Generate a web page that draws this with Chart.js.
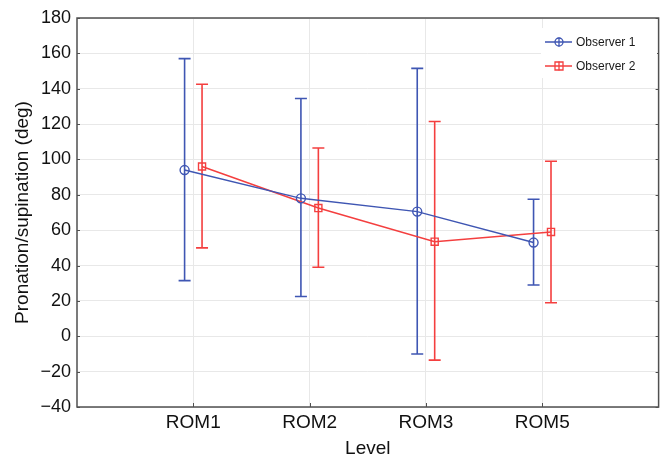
<!DOCTYPE html>
<html>
<head>
<meta charset="utf-8">
<script src="https://cdn.jsdelivr.net/npm/chart.js@4.4.1/dist/chart.umd.min.js"></script>
<style>
  html, body { margin: 0; padding: 0; background: #fff; }
  #wrap { width: 665px; height: 460px; }
</style>
</head>
<body>
<div id="wrap"><canvas id="chart" width="665" height="460"></canvas></div>
<script>
// data
const levels = ['ROM1', 'ROM2', 'ROM3', 'ROM5'];
const seriesNames = ['Observer 1', 'Observer 2'];
const obs1Mean = [94, 78, 70.5, 53];
const obs1Low = [31.5, 22.5, -10, 29];
const obs1High = [157, 134.5, 151.5, 77.5];
const obs2Mean = [96, 72.5, 53.5, 59];
const obs2Low = [50, 39, -13.5, 19];
const obs2High = [142.5, 106.5, 121.5, 99];
const yTicks = [-40, -20, 0, 20, 40, 60, 80, 100, 120, 140, 160, 180];

const BLUE = '#3f56b3';
const RED = '#f43f3f';
const FONT = '"Liberation Sans", Arial, sans-serif';

// small horizontal shift so the two observers don't overlap
const shift = [-0.075, 0.075];

const toPoints = (vals, k) => vals.map((v, i) => ({ x: i + 1 + shift[k], y: v }));

const errors = [
  { low: obs1Low, high: obs1High },
  { low: obs2Low, high: obs2High },
];

const errorBars = {
  id: 'errorBars',
  beforeDatasetsDraw(chart) {
    const ctx = chart.ctx;
    const y = chart.scales.y;
    chart.data.datasets.forEach((ds, k) => {
      const meta = chart.getDatasetMeta(k);
      ctx.save();
      ctx.strokeStyle = ds.borderColor;
      ctx.lineWidth = 1.6;
      meta.data.forEach((pt, i) => {
        const top = y.getPixelForValue(errors[k].high[i]);
        const bot = y.getPixelForValue(errors[k].low[i]);
        ctx.beginPath();
        ctx.moveTo(pt.x, top);
        ctx.lineTo(pt.x, bot);
        ctx.moveTo(pt.x - 6, top);
        ctx.lineTo(pt.x + 6, top);
        ctx.moveTo(pt.x - 6, bot);
        ctx.lineTo(pt.x + 6, bot);
        ctx.stroke();
      });
      ctx.restore();
    });
  },
};

const frame = {
  id: 'frame',
  afterDatasetsDraw(chart) {
    const { ctx, chartArea: a, scales } = chart;
    ctx.save();
    ctx.strokeStyle = '#505050';
    ctx.lineWidth = 1.5;
    ctx.strokeRect(a.left, a.top, a.right - a.left, a.bottom - a.top);
    ctx.lineWidth = 1;
    ctx.beginPath();
    yTicks.forEach(v => {
      const py = Math.round(scales.y.getPixelForValue(v)) + 0.5;
      ctx.moveTo(a.left, py); ctx.lineTo(a.left + 3, py);
      ctx.moveTo(a.right, py); ctx.lineTo(a.right - 3, py);
    });
    levels.forEach((l, i) => {
      const px = Math.round(scales.x.getPixelForValue(i + 1)) + 0.5;
      ctx.moveTo(px, a.bottom); ctx.lineTo(px, a.bottom - 4);
    });
    ctx.stroke();

    // legend
    ctx.fillStyle = '#fff';
    ctx.fillRect(541, 28, 116, 50);
    const colors = [BLUE, RED];
    seriesNames.forEach((name, k) => {
      const ly = 42 + k * 24;
      ctx.strokeStyle = colors[k];
      ctx.lineWidth = 1.3;
      ctx.beginPath();
      ctx.moveTo(545, ly); ctx.lineTo(572, ly);
      ctx.moveTo(559, ly - 4.5); ctx.lineTo(559, ly + 4.5);
      ctx.stroke();
      ctx.beginPath();
      if (k === 0) ctx.arc(559, ly, 4, 0, Math.PI * 2);
      else ctx.rect(555, ly - 4, 8, 8);
      ctx.stroke();
      ctx.fillStyle = '#1a1a1a';
      ctx.font = '12px ' + FONT;
      ctx.textBaseline = 'middle';
      ctx.fillText(name, 576, ly + 1);
    });
    ctx.restore();
  },
};

new Chart(document.getElementById('chart'), {
  type: 'line',
  data: {
    datasets: [
      {
        label: seriesNames[0],
        data: toPoints(obs1Mean, 0),
        borderColor: BLUE,
        borderWidth: 1.5,
        pointStyle: 'circle',
        pointRadius: 4.5,
        pointBorderWidth: 1.4,
        pointBackgroundColor: 'rgba(0,0,0,0)',
        pointBorderColor: BLUE,
        tension: 0,
      },
      {
        label: seriesNames[1],
        data: toPoints(obs2Mean, 1),
        borderColor: RED,
        borderWidth: 1.5,
        pointStyle: 'rect',
        pointRadius: 5,
        pointBorderWidth: 1.4,
        pointBackgroundColor: 'rgba(0,0,0,0)',
        pointBorderColor: RED,
        tension: 0,
      },
    ],
  },
  options: {
    responsive: false,
    animation: false,
    layout: { padding: { top: 18, right: 4, left: 0, bottom: 0 } },
    plugins: { legend: { display: false }, tooltip: { enabled: false } },
    scales: {
      x: {
        type: 'linear',
        min: 0,
        max: 5,
        afterBuildTicks(scale) {
          scale.ticks = levels.map((l, i) => ({ value: i + 1 }));
        },
        afterFit(scale) { scale.height = 53; },
        ticks: {
          callback: v => levels[v - 1],
          color: '#111',
          font: { family: FONT, size: 19 },
          padding: 4,
          maxRotation: 0,
          autoSkip: false,
        },
        grid: { color: '#e8e8e8', lineWidth: 1, drawTicks: false },
        border: { display: false },
        title: {
          display: true,
          text: 'Level',
          color: '#111',
          font: { family: FONT, size: 19 },
          padding: { top: 0, bottom: 0 },
        },
      },
      y: {
        min: -40,
        max: 180,
        afterBuildTicks(scale) {
          scale.ticks = yTicks.map(v => ({ value: v }));
        },
        afterFit(scale) { scale.width = 77; },
        ticks: {
          callback: v => String(v).replace('-', '\u2212'),
          color: '#111',
          font: { family: FONT, size: 18 },
          padding: 6,
        },
        grid: { color: '#e8e8e8', lineWidth: 1, drawTicks: false },
        border: { display: false },
        title: {
          display: true,
          text: 'Pronation/supination (deg)',
          color: '#111',
          font: { family: FONT, size: 19 },
          padding: { top: 11, bottom: 0 },
        },
      },
    },
  },
  plugins: [errorBars, frame],
});
</script>
</body>
</html>
